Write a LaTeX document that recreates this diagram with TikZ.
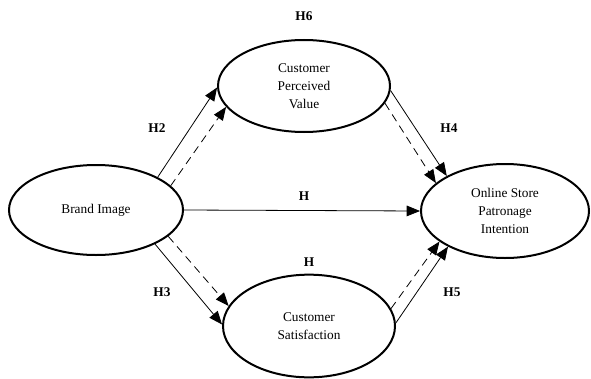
\documentclass[tikz,border=0pt]{standalone}
\usepackage{fontspec}
\setmainfont{Liberation Serif}
\usetikzlibrary{shapes.geometric}
\usetikzlibrary{arrows.meta}

\tikzset{
  construct/.style={draw, ellipse, line width=1.5pt, inner sep=0pt, align=center,
    font=\fontsize{10}{13.5}\selectfont},
  hyp/.style={font=\bfseries\fontsize{10}{12}\selectfont},
  path/.style={line width=0.6pt, -{Triangle[length=10pt,width=8pt]}},
  mediated/.style={path, dash pattern=on 6pt off 4pt}
}

\begin{document}
\begin{tikzpicture}[x=0.75pt,y=-0.75pt]
\useasboundingbox (0,0) rectangle (591,378);

\node [construct, minimum width=130.5pt, minimum height=67.5pt] (brand) at (96,210) {Brand Image};
\node [construct, minimum width=129pt, minimum height=69pt] (value) at (304,86) {Customer\\Perceived\\Value};
\node [construct, minimum width=129pt, minimum height=77pt] (satis) at (309,326) {Customer\\Satisfaction};
\node [construct, minimum width=126pt, minimum height=70.5pt] (store) at (505,211) {Online Store\\Patronage\\Intention};

\node [hyp] (h6) at (304,16) {H6};
\node [hyp] (h2) at (157,128) {H2};
\node [hyp] (h4) at (449,128) {H4};
\node [hyp] (h1) at (304,196) {H};
\node [hyp] (h7) at (309,262) {H};
\node [hyp] (h3) at (162,292) {H3};
\node [hyp] (h5) at (452,292) {H5};

% direct paths
\draw [path] (brand.28) -- (value.181);
\draw [path] (value.357) -- (store.149);
\draw [path] (brand.east) -- (store.west);
\draw [path] (brand.330) -- (satis.179);
\draw [path] (satis.2) -- (store.212);

% indirect paths
\draw [mediated] (brand.18) -- (value.195);
\draw [mediated] (value.348) -- (store.158);
\draw [mediated] (brand.340) -- (satis.166);
\draw [mediated] (satis.12) -- (store.205);
\end{tikzpicture}
\end{document}
